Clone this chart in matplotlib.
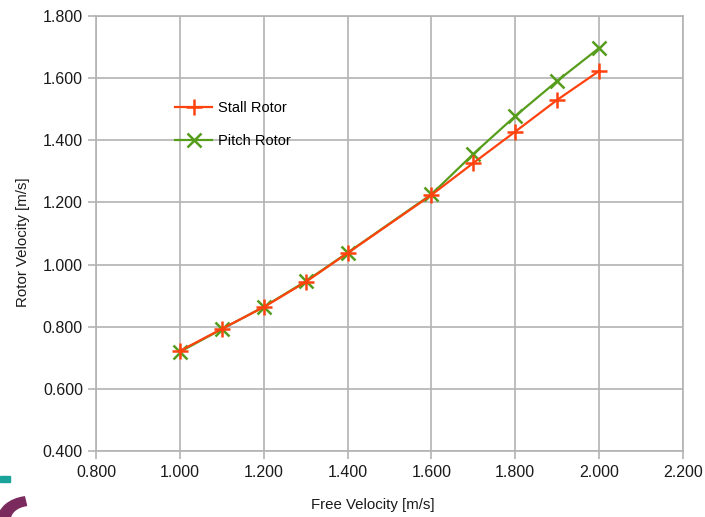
import matplotlib.pyplot as plt
import matplotlib.patches as mpatches

plt.rcParams['font.family'] = ['Liberation Sans', 'DejaVu Sans']

free_velocity = [1.0, 1.1, 1.2, 1.3, 1.4, 1.6, 1.7, 1.8, 1.9, 2.0]
stall_rotor = [0.722, 0.793, 0.863, 0.944, 1.037, 1.224, 1.327, 1.428, 1.530, 1.623]
pitch_rotor = [0.719, 0.792, 0.864, 0.946, 1.038, 1.226, 1.356, 1.478, 1.591, 1.697]

x_ticks = [0.8, 1.0, 1.2, 1.4, 1.6, 1.8, 2.0, 2.2]
y_ticks = [0.4, 0.6, 0.8, 1.0, 1.2, 1.4, 1.6, 1.8]

W, H = 705, 517
fig = plt.figure(figsize=(W / 100, H / 100), dpi=100)
ax = fig.add_axes([96 / W, 1 - 451 / H, (683 - 96) / W, (451 - 16) / H])

grid_c = '#b3b3b3'
p_line, = ax.plot(free_velocity, pitch_rotor, color='#579d1c', lw=1.6,
                  marker='x', ms=10, mew=1.8, label='Pitch Rotor', zorder=3)
s_line, = ax.plot(free_velocity, stall_rotor, color='#ff420e', lw=1.6,
                  marker='+', ms=12, mew=1.8, label='Stall Rotor', zorder=4)

ax.set_xlim(0.8, 2.2)
ax.set_ylim(0.4, 1.8)
ax.set_xticks(x_ticks)
ax.set_yticks(y_ticks)
ax.set_xticklabels(['%.3f' % v for v in x_ticks])
ax.set_yticklabels(['%.3f' % v for v in y_ticks])
ax.grid(True, color=grid_c, lw=1.2)
ax.set_axisbelow(True)
for s in ax.spines.values():
    s.set_color(grid_c)
    s.set_linewidth(1.2)
ax.tick_params(colors=grid_c, labelcolor='#1a1a1a', labelsize=11.5,
               length=5.8, width=1.2)
ax.tick_params(axis='y', pad=3.6)
ax.tick_params(axis='x', pad=4.5)

# axis titles placed in figure pixels
fig.text(373 / W, 1 - 505 / H, 'Free Velocity [m/s]', fontsize=10.8,
         color='#1a1a1a', ha='center', va='center')
fig.text(23 / W, 1 - 242 / H, 'Rotor Velocity [m/s]', fontsize=10.8,
         color='#1a1a1a', ha='center', va='center', rotation=90)

ax.legend(handles=[s_line, p_line], loc='upper left',
          bbox_to_anchor=(168 / W, 1 - 94 / H), bbox_transform=fig.transFigure,
          frameon=False, fontsize=10.5, handlelength=2.5, handletextpad=0.4,
          labelspacing=1.3, borderpad=0)

# corner logo fragment
fig.patches.append(mpatches.Rectangle((0, 1 - 482 / H), 10 / W, 6 / H,
                                      transform=fig.transFigure,
                                      color='#1aa39a', zorder=0))
fig.patches.append(mpatches.Wedge((30 / W, 1 - 520 / H), 32 / W, 100, 260,
                                  width=12 / W, transform=fig.transFigure,
                                  color='#7a2a5c', zorder=0))

fig.savefig('out.png', dpi=100)
